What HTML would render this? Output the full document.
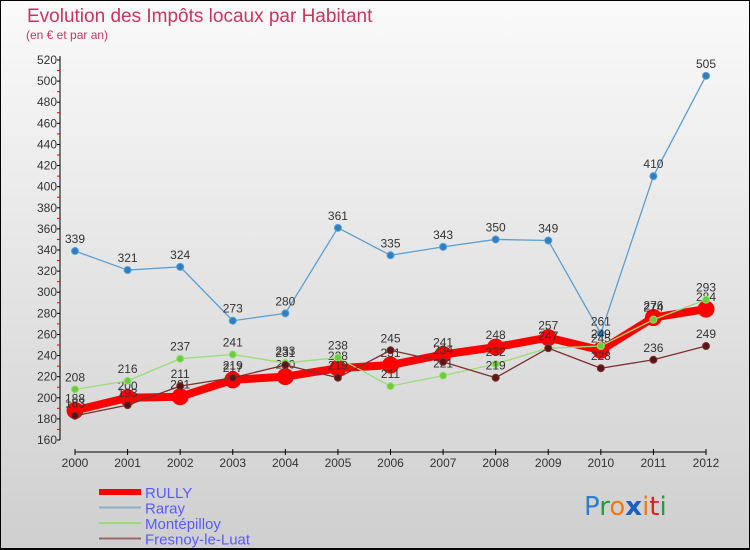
<!DOCTYPE html>
<html><head><meta charset="utf-8"><style>
body{margin:0;width:750px;height:550px;overflow:hidden}
svg{display:block;font-family:"Liberation Sans",sans-serif}
</style></head><body>
<svg id="c" width="750" height="550">
<defs><linearGradient id="bg" x1="0" y1="0" x2="0" y2="1"><stop offset="0" stop-color="#fafafa"/><stop offset="1" stop-color="#cfcfcf"/></linearGradient></defs>
<rect x="0.5" y="0.5" width="749" height="548" fill="url(#bg)" stroke="#000"/>
<line x1="0" y1="549" x2="750" y2="549" stroke="#000" stroke-width="2"/>
<text x="27" y="22" font-size="19" fill="#c8365f">Evolution des Impôts locaux par Habitant</text>
<text x="26" y="39" font-size="12" fill="#c8365f">(en € et par an)</text>
<g id="axes"></g><g id="series"></g><g id="legend"></g>
<g font-size="26" font-family="'DejaVu Sans',sans-serif">
<text x="584" y="515"><tspan fill="#2a7fd0">P</tspan><tspan fill="#2a9a3a">r</tspan><tspan fill="#f07a10">o</tspan><tspan fill="#1a5fc0" font-weight="bold">x</tspan><tspan fill="#f07a10">i</tspan><tspan fill="#e02020">t</tspan><tspan fill="#2a9a3a">i</tspan></text></g>
</svg>
<script>
const years=[2000,2001,2002,2003,2004,2005,2006,2007,2008,2009,2010,2011,2012];
const rully=[188,200,201,217,220,228,231,241,248,257,245,276,284];
const raray=[339,321,324,273,280,361,335,343,350,349,261,410,505];
const montepilloy=[208,216,237,241,233,238,211,221,232,247,249,274,293];
const fresnoy=[183,193,211,219,231,219,245,234,219,247,228,236,249];
const yTicks=[160,180,200,220,240,260,280,300,320,340,360,380,400,420,440,460,480,500,520];
const NS="http://www.w3.org/2000/svg";
function X(i){return 75+i*(706-75)/(years.length-1);}
function Y(v){return 440-(v-160)*380/360;}
function mk(t,a,p){const e=document.createElementNS(NS,t);for(const k in a)e.setAttribute(k,a[k]);p.appendChild(e);return e;}
const ax=document.getElementById('axes');
let yl=mk('line',{x1:60,y1:Y(520)-4,x2:60,y2:Y(160),stroke:'#000'},ax);


yTicks.forEach(v=>{
 mk('line',{x1:57,x2:60,y1:Y(v),y2:Y(v),stroke:'#000'},ax);
 mk('line',{x1:57,x2:60,y1:Y(v+10),y2:Y(v+10),stroke:'#e00'},ax).style.display=v<520?'':'none';
 const t=mk('text',{x:57,y:Y(v)+4,'font-size':12,fill:'#333','text-anchor':'end'},ax);t.textContent=v;
 
 
});
let xl=mk('line',{x1:X(0),y1:452,x2:X(12),y2:452,stroke:'#000'},ax);


years.forEach((y,i)=>{
 mk('line',{x1:X(i),x2:X(i),y1:449,y2:455,stroke:'#000'},ax);
 const t=mk('text',{x:X(i),y:467,'font-size':12,fill:'#333','text-anchor':'middle'},ax);t.textContent=y;
 
 
});
const sg=document.getElementById('series');
function series(name,data,col,w,r,dot){
 const g=mk('g',{},sg);
 
 
 mk('polyline',{points:data.map((v,i)=>X(i)+','+Y(v)).join(' '),fill:'none',stroke:col,'stroke-width':w,'stroke-linejoin':'round'},g);
 data.forEach((v,i)=>{
  const c=mk('circle',{cx:X(i),cy:Y(v),r:r,fill:dot,stroke:col,'stroke-width':1},g);
  
  
  const t=mk('text',{x:X(i),y:Y(v)-8,'font-size':12,fill:'#333','text-anchor':'middle'},g);t.textContent=v;
  
  
 });
}
series('raray',raray,'#5a9fd4',1.3,3.5,'#2f7fc0');
series('rully',rully,'#f00',8,8,'#f00');
series('montepilloy',montepilloy,'#99dd77',1.3,3.5,'#6ccc3c');
series('fresnoy',fresnoy,'#7a3030',1.3,3.5,'#5a1515');
const lg=document.getElementById('legend');
const items=[['RULLY','#f00',6],['Raray','#8ab0cc',2],['Montépilloy','#99dd77',2],['Fresnoy-le-Luat','#9a6a6a',2]];
items.forEach((it,i)=>{
 const y=492+i*15.5;
 const g=mk('g',{},lg);
 
 
 mk('line',{x1:99,x2:141,y1:y,y2:y,stroke:it[1],'stroke-width':it[2]},g);
 const t=mk('text',{x:145,y:y+6,'font-size':15,fill:'#5a5aff'},g);t.textContent=it[0];
});
</script>
</body></html>
